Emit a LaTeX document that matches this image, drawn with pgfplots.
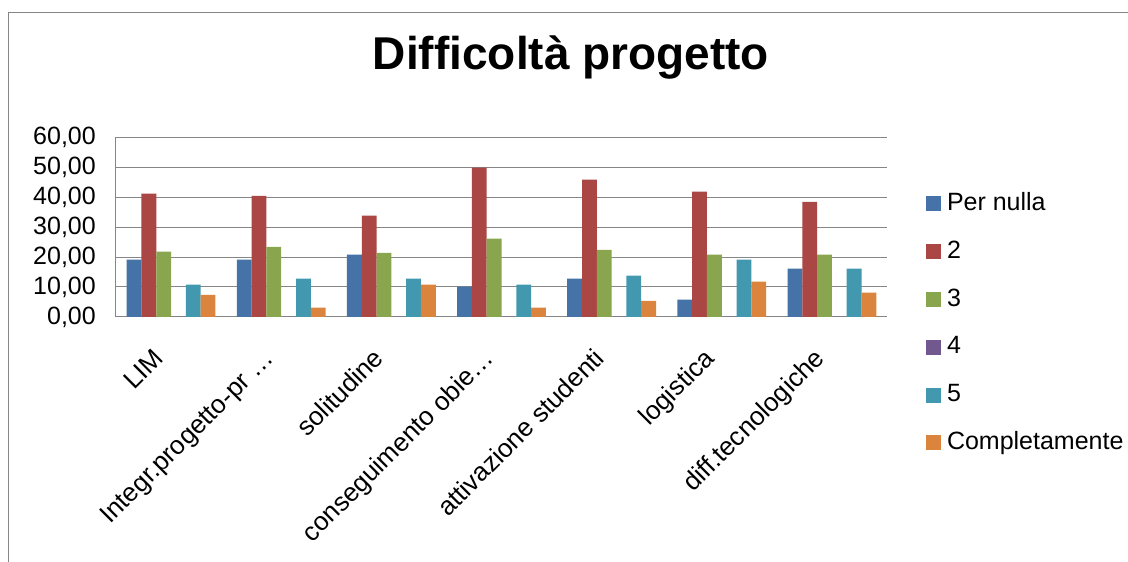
\documentclass[border=0pt]{standalone}
\usepackage{pgfplots}
\pgfplotsset{compat=1.18}
\usepackage{fontspec}
\setmainfont{Liberation Sans}
\definecolor{c1}{HTML}{4572A7}
\definecolor{c2}{HTML}{AA4643}
\definecolor{c3}{HTML}{89A54E}
\definecolor{c4}{HTML}{71588F}
\definecolor{c5}{HTML}{4198AF}
\definecolor{c6}{HTML}{DB843D}
\definecolor{lgray}{HTML}{868686}
\pgfplotsset{sq/.style={legend image code/.code={\fill[##1] (0pt,-7.5pt) rectangle (15pt,7.5pt);}}}
\begin{document}
\begin{tikzpicture}
\useasboundingbox (0pt,0pt) rectangle (1128pt,562pt);
\draw[color=lgray, line width=1pt] (8pt,0pt) -- (8pt,549pt) -- (1128pt,549pt);
\node[anchor=base, font=\bfseries\fontsize{46}{50}\selectfont] at (571pt,492pt) {Difficoltà progetto};
\begin{axis}[
  at={(116pt,245pt)}, anchor=south west,
  scale only axis, width=771pt, height=180pt,
  ybar=0pt, bar width=14.8pt,
  xmin=-0.5, xmax=6.5, ymin=0, ymax=60,
  xtick={0,1,2,3,4,5,6},
  xticklabels={LIM, Integr.progetto-pr …, solitudine, conseguimento obie…, attivazione studenti, logistica, diff.tecnologiche},
  ytick={0,10,20,30,40,50,60},
  yticklabels={{0,00},{10,00},{20,00},{30,00},{40,00},{50,00},{60,00}},
  major tick length=0pt,
  tick style={draw=none},
  axis x line*=bottom, axis y line*=left,
  axis line style={draw=lgray, line width=1pt, -},
  ymajorgrids, grid style={draw=lgray, line width=1pt},
  yticklabel style={font=\fontsize{25}{30}\selectfont, inner sep=0pt, xshift=-20pt},
  xticklabel style={font=\fontsize{26}{30}\selectfont, inner sep=0pt, xshift=-6pt, yshift=-43pt, rotate=45, anchor=base east},
  legend style={draw=none, fill=none, inner sep=0pt, outer sep=0pt,
    at={(rel axis cs:1.0506,-0.036)}, anchor=west,
    font=\fontsize{25}{30}\selectfont,
    nodes={inner sep=0pt, text height=18pt, text depth=5pt},
    row sep=24.8pt,
    /tikz/every odd column/.style={column sep=6pt}},
  legend cell align=left,
  clip=false,
]
\addplot[fill=c1, draw=none, sq] coordinates {(0,19.1) (1,19.1) (2,20.8) (3,10.1) (4,12.8) (5,5.8) (6,16.1)};
\addplot[fill=c2, draw=none, sq] coordinates {(0,41.1) (1,40.4) (2,33.8) (3,49.8) (4,45.8) (5,41.8) (6,38.4)};
\addplot[fill=c3, draw=none, sq] coordinates {(0,21.8) (1,23.4) (2,21.4) (3,26.1) (4,22.4) (5,20.8) (6,20.8)};
\addplot[fill=c4, draw=none, sq] coordinates {(0,0) (1,0) (2,0) (3,0) (4,0) (5,0) (6,0)};
\addplot[fill=c5, draw=none, sq] coordinates {(0,10.8) (1,12.8) (2,12.8) (3,10.8) (4,13.8) (5,19.1) (6,16.1)};
\addplot[fill=c6, draw=none, sq] coordinates {(0,7.4) (1,3.1) (2,10.8) (3,3.1) (4,5.4) (5,11.8) (6,8.1)};
\legend{Per nulla, 2, 3, 4, 5, Completamente}
\end{axis}
\end{tikzpicture}
\end{document}
